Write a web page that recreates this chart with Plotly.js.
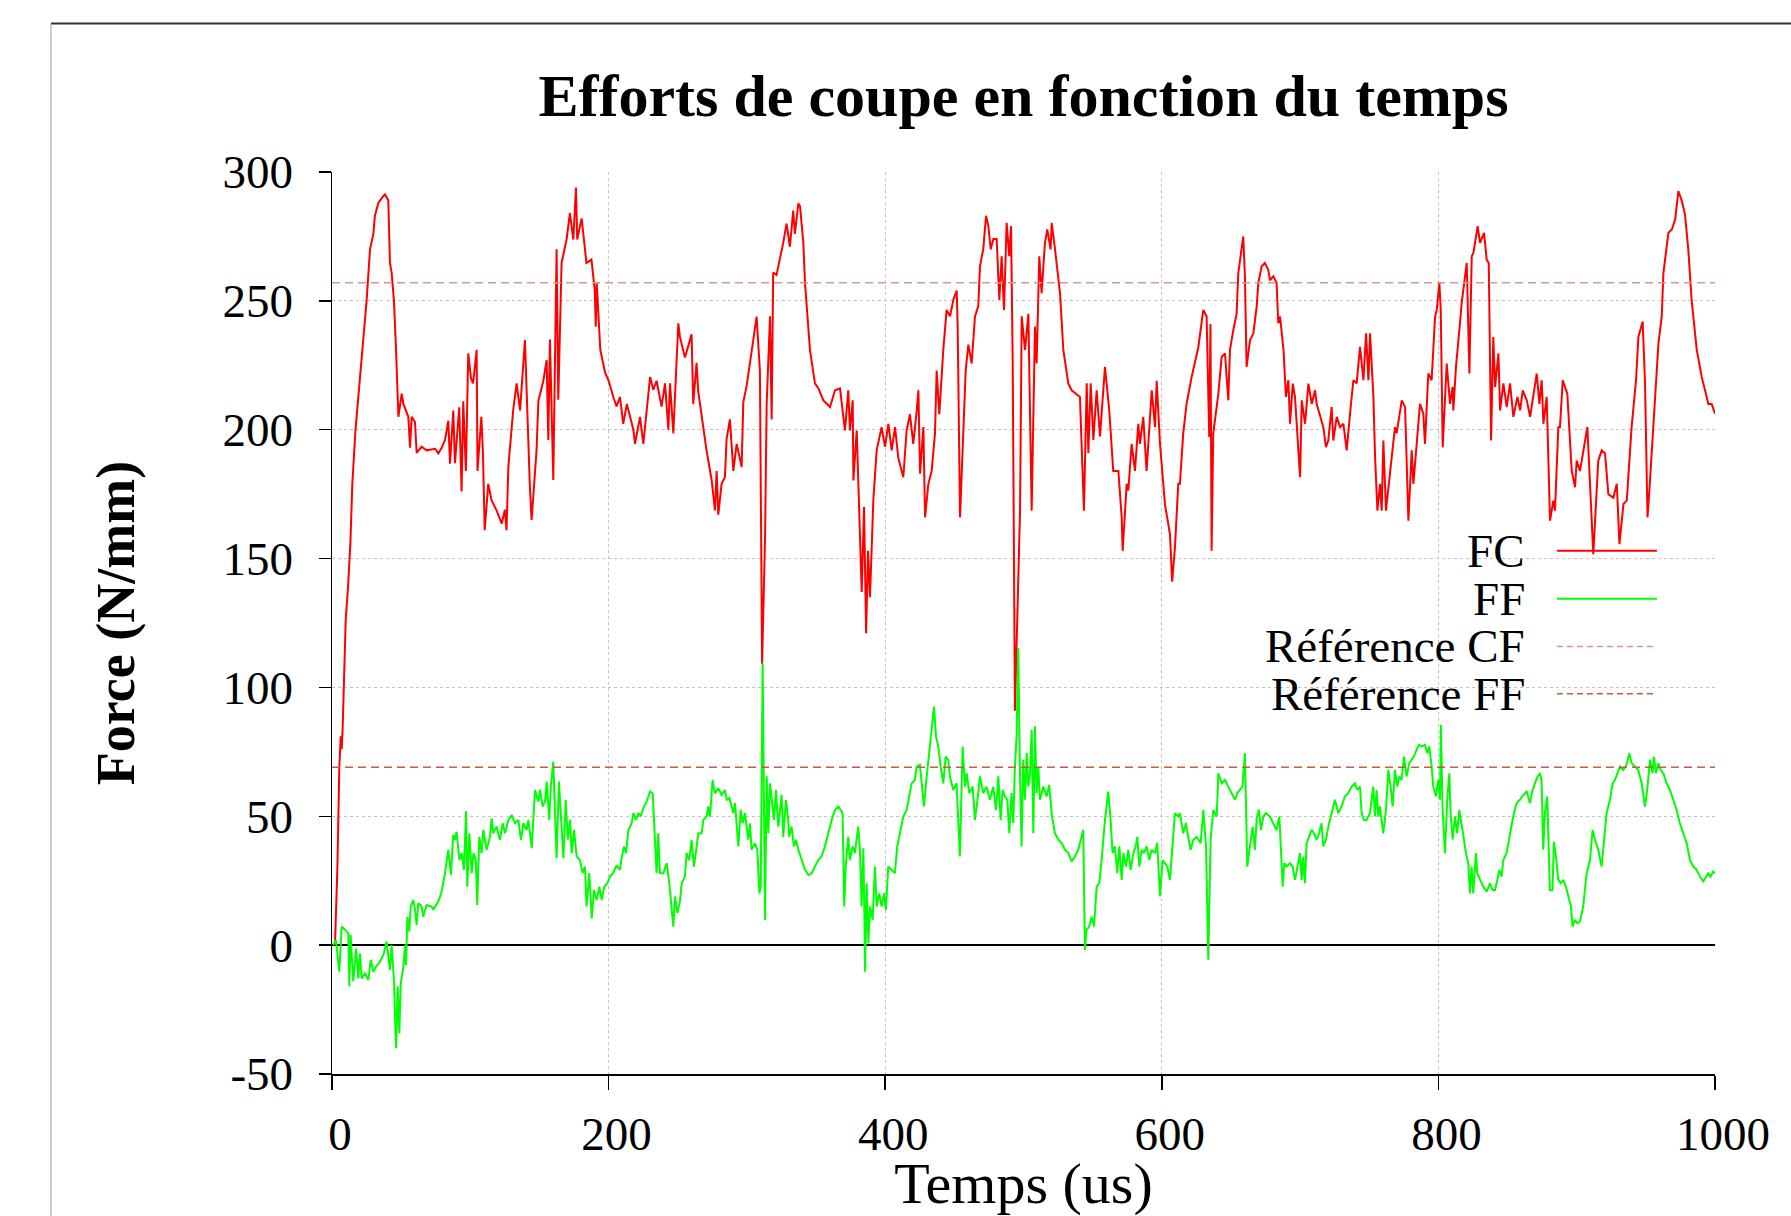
<!DOCTYPE html>
<html>
<head>
<meta charset="utf-8">
<script src="https://cdn.plot.ly/plotly-3.0.1.min.js"></script>
<style>
html,body{margin:0;padding:0;background:#ffffff;}
#chart{width:1791px;height:1216px;}
</style>
</head>
<body>
<div id="chart"></div>
<script>
// ---- Data ----
const tFC = [1,2.2,3.9,5.3,6.3,7.0,7.7,9.9,11.6,13.3,14.7,17.0,20.2,25.0,27.5,29.9,31.0,33.5,37.0,38.3,40.7,41.9,43.1,44.8,46.3,48.0,50.4,51.6,55.2,56.4,57.6,60.0,61.2,64.8,68.4,74.5,76.9,79.3,81.7,84.1,85.3,87.7,88.9,92.0,93.7,94.9,96.8,98.5,100.5,102.0,104.6,105.2,108.0,109.2,110.4,113.0,115.4,119.0,122.7,125.0,126.2,127.5,131.0,133.5,136.0,139.5,143.0,144.3,147.9,149.2,152.8,155.2,156.4,157.6,160.0,162.4,163.6,166.0,169.6,172.0,174.5,176.4,177.3,180.5,184.0,187.6,190.0,190.7,191.4,194.0,197.5,200.0,203.4,205.8,208.2,210.6,213.2,217.9,219.1,222.7,225.1,227.5,230.0,232.3,234.7,238.3,240.8,243.2,244.4,246.8,250.4,251.6,255.2,260.0,261.2,263.6,264.8,270.8,274.5,276.9,278.1,279.3,281.7,284.1,285.3,287.7,290.2,292.6,296.2,297.4,299.8,304.6,307.0,309.4,311.0,313.1,314.3,316.7,317.9,319.0,321.4,326.3,328.7,331.1,333.5,334.7,337.2,338.4,340.8,342.0,345.6,349.2,351.7,355.3,360.1,363.7,367.3,370.9,373.3,374.5,376.5,377.0,379.4,380.6,383.0,384.7,386.2,387.6,389.0,391.4,393.8,397.4,399.9,402.3,404.7,407.1,409.5,413.1,415.5,417.9,420.3,422.8,424.0,425.2,427.6,428.8,431.2,433.6,436.0,437.2,439.1,442.0,444.4,446.9,449.3,451.7,452.4,454.1,456.5,458.2,460.1,462.5,464.9,467.3,468.5,470.9,472.9,474.6,476.3,478.2,480.6,482.5,484.2,485.9,487.8,489.7,491.0,492.2,493.8,497.5,498.7,501.1,503.5,505.9,508.3,509.5,511.4,513.1,515.5,517.2,519.6,520.4,522.8,526.4,528.8,532.4,534.8,540.8,543.7,545.7,546.9,548.6,550.5,552.9,555.3,558.9,562.0,564.9,568.6,571.0,571.7,574.6,575.8,578.2,580.6,583.0,584.2,586.6,589.0,592.7,595.1,596.3,598.7,602.3,605.9,607.5,609.5,611.9,613.1,615.5,617.9,621.6,626.4,630.0,632.4,634.3,635.2,636.0,637.2,640.9,643.3,645.7,648.1,649.3,651.7,652.9,654.1,655.3,656.5,658.9,660.1,661.3,663.8,666.2,668.6,669.8,672.2,674.6,677.0,678.2,680.6,683.0,684.2,685.5,688.0,689.8,691.5,692.7,694.7,696.3,700.0,701.2,703.6,706.0,708.4,710.8,712.0,714.4,716.8,718.7,720.4,722.8,724.0,726.5,728.9,731.3,733.7,736.1,738.5,740.9,743.3,745.8,747.7,749.4,750.6,753.0,754.2,755.9,757.8,759.0,760.2,762.1,765.0,768.6,769.8,773.5,775.9,778.3,780.7,781.9,784.3,786.7,789.1,790.3,792.7,795.1,797.6,798.8,800.7,801.7,803.1,806.0,808.4,810.3,810.8,812.7,815.6,816.8,820.5,822.4,824.1,825.3,828.4,830.1,833.0,834.9,836.4,838.1,839.7,841.0,843.4,844.6,847.0,849.4,851.8,854.2,857.1,859.1,861.0,863.9,866.3,871.1,873.0,874.7,875.9,878.3,880.7,883.1,884.3,886.7,887.9,889.9,893.2,896.4,898.8,900.0,902.4,906.0,907.7,912.0,915.6,918.1,920.5,922.9,926.5,929.0,930.9,933.8,936.2,939.7,942.9,944.6,947.7,949.4,951.2,952.7,955.5,959.1,961.5,962.7,966.3,968.8,971.2,973.5,975.9,978.3,980.7,983.1,986.8,990.4,992.8,995.2,997.6,1000];
const fc = [0,1,30,69,81,76,84,126,139,156,179,200,220,250,270,276,283,288,290.6,291.3,289,264.7,261,250,231,205,214,210,205,193,205,203,191,193.4,192,192.6,190.8,193,196,203.5,186.8,207.4,187,208.7,176,211,184,229.6,220,218,231,184,205,190,161,179,172.6,168.7,163.6,169,161,185.5,207.5,218,207.5,234.8,179,165,192,211,219,227,196,235,180.5,270,211.6,264.7,273.8,284,273.8,294,273.8,282,264.7,266,254,240,257,231,222,219,212.7,209,212.7,202.3,210,200,194.5,205,194.5,206.2,220.5,215.5,219,209,218,200,218,198.6,241.3,236,228,237,210,226,215,192,180.5,168.7,184,167,179,181.6,196.3,204,184,194.5,185.5,210.6,217,234.8,243.9,223,109,158,210,244,204,261,260,272.6,280,271,285,276,287.8,286.8,272.5,257,231,218,216,211.4,208.8,215.3,216,199.7,215.3,199.7,211.4,180.3,199.7,179,137,170,121,153,135,172.5,192,201,193.4,202.3,192,201,189,181.6,199.7,206,194.5,207.4,215.3,182.9,201,166,179,184,198.6,223,206,231,246.5,244,250.4,254,240,166,196,223,233,225.7,244,248,263.4,270,283,279,270,274,274,250.4,267.3,246.5,280.3,267.3,279,225.7,91,168.6,244,231,245,168.6,240,225.7,267.3,253,272.5,277.7,270,280.3,270,253,231,218,215.3,212.7,168.6,218,191,218,196,215.3,197.4,224.4,207.5,184,184,166,153,179,176.4,194.5,184,202.3,194.5,205,184,215.3,201,219,194.5,171,159.5,141,154.3,179,179,198.6,210,220.5,232,246.5,244,197.1,241,153,198.6,214,228.3,229.6,211.4,231,238.7,241.3,245,260.8,266,275,259.5,224.4,234.8,237.4,247.8,257,263.4,264.7,262,258,259.5,257,241.3,243.9,231,212.7,219.2,202.3,217.9,212.7,181.6,211.4,202.3,217.9,210,215.3,210,205,201,193.2,195.8,208.8,195.8,205,201,202.3,192,206.2,219.2,218,232.2,219.2,237.4,219.2,237.4,212.7,189.4,168.6,179,168.6,195.8,168.6,184,201,198.6,211.4,208.8,164.7,192,179,194.5,210,206.2,194.5,221.8,219.2,243.9,246.5,257,246.5,193.2,225.7,210,216.6,207.5,224.4,241.3,249,264.7,221.8,267.3,268.6,279,272.5,276.4,266,264.7,195.8,236,216.6,229.6,207.5,218,208.8,218,205,212.7,207.5,215.3,211.4,205,221.8,210,219.2,202.3,212.7,164.7,172.5,168.6,201,201,219.2,214,184,177.7,188,184,194.5,201,151.7,188,192,190.8,175,173.6,179,155.6,171.2,172.5,201,219.2,236,242,218,166,177.7,201,233.5,244,260.8,276.4,277.7,281.6,292.6,289,283.5,269.9,250.4,231,220.5,215.3,210,210,206.2];

const tFF = [1,2.8,5.3,7.0,9.4,11.8,12.5,13.5,14.2,15.4,17.4,19.0,20.2,21.5,23.9,26.3,28.0,29.9,31.8,34.7,37.1,39.5,41.9,43.1,44.8,46.3,47.5,48.7,49.7,51.6,52.8,53.5,54.5,55.9,56.9,58.8,60.0,61.2,62.4,64.8,66.0,68.4,72.0,73.3,76.9,79.3,81.7,84.1,86.0,87.7,88.9,90.1,92.1,93.7,95.4,96.9,97.8,99.3,101.0,102.3,104.0,105.0,106.5,108.2,109.4,111.8,114.2,115.4,116.6,119.0,121.4,123.4,125.1,127.5,129.9,132.3,134.7,136.6,138.4,140.8,142.0,144.4,146.8,149.2,150.4,152.3,154.0,155.2,157.1,158.3,160.0,161.2,162.4,164.1,165.6,167.3,169.0,170.5,172.1,173.3,175.0,176.9,179.3,181.2,182.9,184.1,186.0,187.8,189.4,191.4,193.3,195.0,196.9,199.1,201.0,203.4,205.8,208.2,209.4,211.1,212.5,214.3,216.7,217.9,219.8,221.5,223.2,225.1,227.5,229.9,231.9,233.0,234.7,235.9,237.1,239.6,242.0,243.9,245.6,246.8,248.0,249.7,251.6,252.8,255.2,256.4,258.3,260.0,261.7,263.2,264.9,267.3,268.5,270.9,272.1,273.3,275.2,276.9,279.3,281.7,284.1,285.4,287.3,289.0,290.2,291.4,292.6,293.8,295.5,296.9,298.6,299.8,301.0,302.2,303.4,305.8,307.5,309.0,310.0,311.4,313.1,314.3,315.5,316.7,317.9,319.6,321.0,322.7,325.1,326.3,328.3,329.9,330.6,332.3,334.0,335.5,337.2,339.6,342.0,344.4,346.8,349.2,351.6,354.0,356.4,358.9,361.3,363.7,366.1,367.8,369.2,370.4,371.6,373.3,374.5,376.4,378.1,380.5,381.7,383.0,384.2,384.9,385.4,386.6,387.8,389.0,390.9,392.6,393.8,395.7,397.4,399.1,400.5,402.2,404.6,407.0,408.7,410.7,413.1,415.5,417.4,419.1,421.5,422.7,425.1,428.0,430.0,431.9,433.6,435.3,436.7,438.4,440.1,442.0,443.7,445.6,446.8,449.2,451.6,454.0,456.0,457.7,458.9,460.8,463.2,464.9,467.3,468.5,470.9,473.3,475.7,478.1,480.1,481.8,483.5,484.9,486.6,488.3,489.7,491.4,492.6,493.8,495.0,496.2,497.4,498.6,499.8,501.1,502.3,503.5,504.7,505.9,507.1,508.3,509.5,510.7,511.9,514.3,516.7,518.6,520.3,522.7,525.2,527.6,530.0,532.4,534.8,537.2,539.6,541.5,543.2,544.4,545.6,547.5,549.3,551.0,552.9,554.8,556.5,558.9,561.3,563.0,564.4,566.1,567.8,569.3,571.0,572.2,574.1,575.8,577.5,579.4,581.1,582.3,583.7,585.4,587.1,589.0,591.0,592.6,595.0,596.7,598.7,600.6,602.3,604.0,605.9,607.8,609.5,611.9,613.1,615.5,617.4,619.1,620.8,622.8,625.2,628.1,630.0,632.0,633.6,635.3,637.2,639.7,640.9,643.3,645.7,648.1,650.5,652.9,654.6,656.5,658.3,660.1,661.8,663.7,665.7,667.3,668.6,670.2,671.7,673.4,675.3,678.2,680.6,683.0,685.0,686.1,687.4,688.6,690.3,692.7,694.6,696.3,698.0,699.9,701.1,702.3,703.5,704.7,706.4,708.3,710.0,711.9,713.8,715.5,716.8,718.7,720.4,722.8,725.2,727.6,730.0,732.4,734.8,737.2,739.6,741.4,743.3,744.5,746.2,748.1,750.5,752.9,754.1,755.3,756.5,757.7,760.1,762.1,763.8,765.4,766.9,768.6,770.3,771.7,773.4,775.1,777.0,778.9,780.6,782.3,784.2,785.9,787.9,790.3,792.0,793.4,795.1,796.3,798.2,799.9,801.1,801.8,803.0,804.7,806.4,807.9,808.8,810.3,812.0,813.6,815.1,816.8,818.5,819.9,821.6,822.8,824.0,825.2,827.1,828.1,830.0,832.4,834.9,837.3,839.2,840.9,842.6,844.0,845.7,846.9,849.3,851.7,854.1,856.5,858.9,861.4,863.8,866.2,868.1,869.8,871.7,873.4,874.6,875.8,877.0,878.7,880.6,882.5,883.5,885.0,886.7,888.4,890.3,892.2,893.9,895.8,897.0,898.7,900.4,902.3,904.7,907.2,909.6,911.5,913.2,915.6,918.0,919.2,921.6,924.0,926.0,927.6,929.3,931.3,933.7,936.1,938.0,939.7,942.1,944.5,947.0,949.3,951.0,953.0,954.9,955.8,957.3,959.0,960.7,962.6,965.0,967.4,969.8,972.2,974.6,977.1,979.5,981.9,984.3,986.7,989.1,991.5,993.9,995.1,996.8,998.7,1000];
const ff = [0,2,-10.3,7.2,6,4.6,-16,4,-3.2,-14,-1.3,-12.9,-3.2,-12.9,-11,-13.5,-5.7,-10.3,-8.4,-6.4,-3.8,1.4,-9.6,0,-13.5,-40,-16,-34.2,-14.9,-8.4,0,-7.8,11,5.2,15,17.5,13.7,7.8,16.3,15,11,15.6,15,13.7,17,20.8,28,37,27.3,42.8,40.9,44,33,35.7,29.2,51.9,22.7,43.4,27.9,35.7,33,15.6,42,35.7,44.7,37,42,49.2,43.4,46,40.9,47.3,43.4,48.6,50.5,47.3,48.6,40.9,47.3,44.7,48.6,37.6,60.2,55.7,60.2,53.8,55.7,63.5,48.6,62.2,71.2,48.6,33.7,63.5,48,33.7,56.3,40.9,48.6,35.7,44.7,34.4,33,28,30.5,15,28,10.4,21.4,17.5,22.7,17.5,22.7,24,26.6,28,31,29.2,33.7,38.3,35.7,44.7,47.3,51.2,48.6,51.2,49.9,53.2,55.7,59.6,58.9,47.3,27.9,43.4,27.9,27.9,31.8,24,13.7,7.2,18.9,12.4,16.9,24,26.6,35.7,33,40.9,30.5,37,43.4,43.4,48.6,49.9,53.8,49.9,64.1,58.9,60.9,58.3,60.2,56.4,57.1,53.8,51.2,55.1,44.7,38.3,52.5,47.3,51.2,46,40.9,47.3,37,39.6,37,20.1,22.7,109.4,9.8,65.5,43.4,62.8,57.7,48.6,60.2,46,58.3,42,56.4,48.6,42,46,38.3,40.9,37,33,29.2,27.2,27.9,30.5,33,34.4,38.3,43.4,48.6,52.5,53.8,52.5,51.2,15,31.8,42,33,38.3,35.7,46,37,15,37.6,13.7,-10.3,24,0.7,15,9.8,30.5,15,20.1,15,20.1,13.7,30.5,29.2,27.9,38.3,43.4,49.9,52.5,57.7,62.8,64.1,69.3,70,53.8,65.5,74.5,84.9,92.6,81,77,69.3,62.8,73.2,71.9,65.5,60.2,62.8,34.4,77,61.5,66.7,59,61.5,48.6,59,65.5,59,61.5,56.4,61.5,52.5,65.5,48.6,60.2,57.7,56.4,43.4,59,47.3,69.3,81,115.3,68,38.3,71.9,56.4,74.5,61.5,66.7,83.6,43.4,84.9,59,69.3,56.4,61.5,57.7,62.1,51.2,43.4,40.9,39.6,37,35.7,32.4,34.4,37,40.9,44.7,-1.9,5.9,7.2,11,7.2,22.7,24,33,48.6,59.6,48.6,35.7,38.3,27.9,38.3,25.3,35.7,30.5,37,29.2,35.7,38.3,42,30.5,37,35.7,38.3,33,37,35.7,39.6,18.9,33,31.8,30.5,25.3,40.9,51.2,49.9,51.2,43.4,47.3,42,37,40.9,42,39.6,52.5,38.3,-5.7,40.9,52.5,49.9,66.7,62.8,64.1,61.5,59,56.4,59,60.2,61.5,74.5,30.5,38.3,46,37,49.2,52.5,44.7,49.9,51.2,49.9,47.3,44.7,49.9,39.6,22.7,31.8,30.5,31.8,30.5,25.3,30.5,35.7,25.3,34.4,24,39.6,42,44.7,43.4,40.9,43.4,47.3,38.3,40.9,46,51.2,56.4,51.2,53.8,57.7,59,61.5,62.8,60.2,61.5,51.2,48.6,48.6,51.2,61.5,49.9,60.2,49.9,53.8,43.4,52.5,68,61.5,53.8,68,61.5,65.4,64.1,73.2,65.4,70.6,72,73.2,75.8,77.7,77.1,77.7,74.5,77.1,69.3,61.5,57.7,64.1,56.4,85.4,53.8,35.7,56.4,66.7,51.2,40.9,49.9,43.4,52.5,47.3,40.9,35.7,31.8,20.1,30.5,20.1,35.7,27.9,25.3,22.7,20.8,24,21.4,21.4,25.3,29.2,26.6,33,35.7,43.4,49.9,55.1,56.4,58.3,59.6,55.1,60.2,62.8,65.4,66.7,64.1,37,51.2,57.7,21.4,21.4,40.2,34.4,25.3,24,25.3,22.7,18.9,15,7.2,9.8,8.5,9.1,15,27.9,33,44.7,40.9,37,30.5,38.3,51.2,56.4,62.8,64.1,66.7,69.3,68,70,74.5,70.6,69.3,68,62.8,53.8,60.2,72,66.7,73.2,66.7,70.6,68,66.7,62.8,60.2,56.4,52.5,47.3,43.4,39.6,33,30.5,29.2,26.6,24.7,26.6,27.9,26.6,28.5,27.9];

const refX = [0, 1000];
const refCFValue = 257;
const refFFValue = 69;

const xTickVals = [0, 200, 400, 600, 800, 1000];
const xTickText = ['0', '200', '400', '600', '800', '1000'];
const yTickVals = [-50, 0, 50, 100, 150, 200, 250, 300];
const yTickText = ['-50', '0', '50', '100', '150', '200', '250', '300'];

const seriesNames = ['FC', 'FF', 'Référence CF', 'Référence FF'];
const seriesColors = ['#ff0000', '#00ff00', 'rgb(214,150,140)', 'rgb(200,90,70)'];

// ---- Chart ----
const FONT = '"Liberation Serif", "DejaVu Serif", serif';

const traces = [
  {x: tFC, y: fc, name: seriesNames[0], type: 'scatter', mode: 'lines',
   line: {color: seriesColors[0], width: 2}, showlegend: false, hoverinfo: 'skip'},
  {x: tFF, y: ff, name: seriesNames[1], type: 'scatter', mode: 'lines',
   line: {color: seriesColors[1], width: 2}, showlegend: false, hoverinfo: 'skip'},
  {x: refX, y: refX.map(() => refCFValue), name: seriesNames[2], type: 'scatter', mode: 'lines',
   line: {color: seriesColors[2], width: 1.5, dash: '8px,5px'}, showlegend: false, hoverinfo: 'skip'},
  {x: refX, y: refX.map(() => refFFValue), name: seriesNames[3], type: 'scatter', mode: 'lines',
   line: {color: seriesColors[3], width: 1.5, dash: '8px,5px'}, showlegend: false, hoverinfo: 'skip'}
];

// custom legend (text right-aligned, sample line on the right, as in the reference)
const legY = [0.580, 0.527, 0.474, 0.4215];
const legendAnnotations = seriesNames.map((n, i) => ({
  xref: 'paper', yref: 'paper', x: 0.8641, y: legY[i], xanchor: 'right', yanchor: 'middle',
  text: n, showarrow: false, font: {family: FONT, size: 47, color: '#000'}
}));
const legendShapes = seriesNames.map((n, i) => ({
  type: 'line', xref: 'paper', yref: 'paper', x0: 0.8857, x1: 0.958, y0: legY[i], y1: legY[i],
  line: {color: seriesColors[i], width: i < 2 ? 2 : 1.5, dash: i < 2 ? 'solid' : '6px,4px'}
}));

const frameShapes = [
  {type: 'line', xref: 'paper', yref: 'paper', x0: -0.2032, x1: 1.06, y0: 1.1647, y1: 1.1647,
   line: {color: '#333333', width: 2}},
  {type: 'line', xref: 'paper', yref: 'paper', x0: -0.2032, x1: -0.2032, y0: 1.1647, y1: -0.16,
   line: {color: '#9a9a9a', width: 1}}
];

const layout = {
  width: 1791, height: 1216,
  margin: {l: 332, r: 76, t: 172, b: 142, pad: 0},
  paper_bgcolor: '#ffffff', plot_bgcolor: '#ffffff',
  showlegend: false,
  font: {family: FONT, color: '#000'},
  title: {
    text: '<b>Efforts de coupe en fonction du temps</b>',
    font: {family: FONT, size: 60, color: '#000'},
    x: 0.5, xref: 'paper', xanchor: 'center',
    y: 1 - 95 / 1216, yref: 'container', yanchor: 'middle'
  },
  xaxis: {
    range: [0, 1000], autorange: false,
    tickmode: 'array', tickvals: xTickVals, ticktext: xTickText,
    ticks: 'outside', ticklen: 14, tickwidth: 1.5, tickcolor: '#000',
    showline: true, linecolor: '#000', linewidth: 1.5, mirror: false,
    showgrid: true, gridcolor: '#c4c4c4', gridwidth: 1, griddash: 'dot',
    zeroline: false,
    tickfont: {family: FONT, size: 47, color: '#000'},
    ticklabelstandoff: 4, ticklabelshift: 8,
    title: {text: 'Temps (us)', font: {family: FONT, size: 58, color: '#000'}, standoff: 73},
    automargin: false
  },
  yaxis: {
    range: [-50, 300], autorange: false,
    tickmode: 'array', tickvals: yTickVals, ticktext: yTickText,
    ticks: 'outside', ticklen: 12, tickwidth: 1.5, tickcolor: '#000',
    showline: true, linecolor: '#000', linewidth: 1.5, mirror: false,
    showgrid: true, gridcolor: '#c4c4c4', gridwidth: 1, griddash: 'dot',
    zeroline: true, zerolinecolor: '#000', zerolinewidth: 1.5,
    tickfont: {family: FONT, size: 47, color: '#000'},
    ticklabelstandoff: 16,
    title: {text: '<b>Force (N/mm)</b>', font: {family: FONT, size: 54, color: '#000'}, standoff: 70},
    automargin: false
  },
  annotations: legendAnnotations,
  shapes: frameShapes.concat(legendShapes)
};

Plotly.newPlot('chart', traces, layout, {staticPlot: true, displayModeBar: false});
</script>
</body>
</html>
